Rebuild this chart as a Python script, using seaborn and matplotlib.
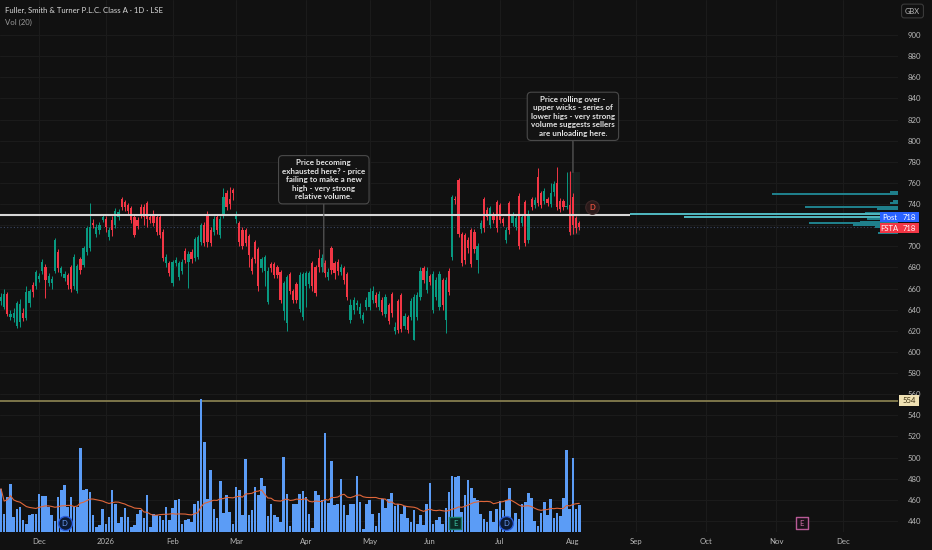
import numpy as np
import pandas as pd
import matplotlib
matplotlib.use("Agg")
import matplotlib.pyplot as plt
from matplotlib.patches import Rectangle
from matplotlib.transforms import blended_transform_factory
import seaborn as sns

TITLE = "Fuller, Smith & Turner P.L.C. Class A \u00b7 1D \u00b7 LSE"
VOL_TITLE = "Vol (20)"

# trading calendar (LSE, daily bars)
start_date = "2025-11-13"
end_date = "2026-12-31"
uk_holidays = ["2025-12-25", "2025-12-26", "2026-01-01", "2026-04-03", "2026-04-06",
               "2026-05-04", "2026-05-25", "2026-08-31", "2026-12-25", "2026-12-28"]
month_labels = ["Dec", "2026", "Feb", "Mar", "Apr", "May", "Jun", "Jul", "Aug",
                "Sep", "Oct", "Nov", "Dec"]

# daily candles, GBX
opens = [648, 643, 655, 633, 632, 625, 628, 637, 632, 646,
         663, 662, 669, 677, 680, 665, 665, 677, 695, 675,
         670, 673, 680, 662, 658, 688, 682, 695, 698, 722,
         712, 715, 725, 726, 709, 725, 720, 728, 745, 742,
         739, 736, 728, 725, 737, 737, 741, 728, 731, 728,
         728, 714, 684, 684, 665, 684, 671, 677, 696, 685,
         695, 689, 690, 704, 720, 730, 715, 714, 728, 711,
         730, 750, 745, 753, 726, 722, 715, 715, 710, 688,
         704, 697, 679, 677, 647, 683, 683, 680, 676, 639,
         627, 674, 658, 664, 641, 633, 662, 664, 684, 680,
         689, 680, 684, 671, 698, 684, 685, 676, 679, 674,
         630, 640, 644, 636, 630, 643, 643, 649, 654, 643,
         649, 636, 644, 655, 620, 648, 654, 625, 633, 633,
         611, 633, 652, 679, 659, 672, 640, 652, 643, 668,
         630, 677, 690, 745, 763, 712, 711, 706, 715, 714,
         687, 716, 745, 734, 720, 730, 742, 739, 726, 706,
         741, 722, 718, 748, 722, 742, 706, 745, 739, 766,
         750, 743, 745, 740, 751, 760, 743, 743, 737, 739,
         747, 727, 722]
closes = [652, 655, 636, 636, 637, 646, 645, 632, 657, 658,
          657, 676, 672, 685, 668, 672, 669, 706, 679, 679,
          674, 663, 660, 690, 681, 678, 698, 717, 718, 720,
          718, 720, 728, 718, 715, 715, 733, 732, 737, 737,
          733, 725, 711, 719, 730, 728, 726, 725, 722, 714,
          711, 689, 690, 675, 685, 687, 684, 685, 687, 693,
          688, 707, 709, 720, 703, 704, 703, 726, 715, 726,
          747, 737, 740, 750, 731, 704, 700, 703, 692, 677,
          688, 662, 688, 690, 677, 679, 673, 673, 649, 665,
          671, 658, 649, 649, 673, 674, 675, 675, 662, 656,
          680, 689, 675, 676, 678, 675, 677, 680, 668, 652,
          644, 649, 646, 643, 635, 649, 657, 658, 646, 655,
          638, 652, 629, 637, 624, 621, 622, 634, 621, 648,
          652, 654, 677, 668, 677, 666, 674, 668, 674, 644,
          668, 657, 747, 744, 712, 684, 687, 698, 683, 697,
          700, 722, 717, 728, 736, 725, 717, 725, 722, 715,
          715, 730, 727, 700, 728, 703, 731, 737, 744, 741,
          739, 752, 741, 750, 759, 737, 735, 737, 738, 714,
          720, 717, 718]
highs = [656, 660, 657, 640, 642, 648, 650, 642, 662, 660,
         666, 678, 675, 688, 683, 675, 672, 708, 697, 681,
         677, 675, 682, 693, 683, 690, 700, 719, 741, 726,
         721, 723, 731, 729, 718, 729, 736, 735, 747, 744,
         741, 738, 730, 728, 740, 740, 743, 731, 734, 730,
         730, 716, 693, 686, 687, 690, 686, 688, 698, 696,
         697, 709, 711, 722, 723, 733, 718, 729, 731, 729,
         755, 753, 756, 755, 733, 724, 718, 717, 712, 690,
         706, 699, 690, 692, 680, 685, 685, 682, 678, 667,
         673, 676, 660, 666, 676, 676, 677, 677, 686, 682,
         697, 693, 687, 679, 700, 686, 688, 683, 681, 676,
         650, 652, 649, 646, 638, 652, 661, 662, 657, 658,
         652, 655, 646, 657, 628, 650, 656, 637, 635, 651,
         655, 657, 680, 681, 680, 674, 677, 671, 677, 670,
         671, 679, 749, 748, 765, 714, 713, 709, 717, 716,
         703, 725, 747, 737, 738, 732, 744, 741, 728, 718,
         743, 732, 730, 750, 731, 744, 734, 747, 747, 774,
         752, 755, 747, 760, 762, 775, 746, 745, 770, 771,
         750, 729, 724]
lows = [644, 641, 634, 630, 628, 623, 624, 629, 630, 643,
        652, 660, 666, 674, 651, 662, 660, 675, 676, 672,
        667, 660, 657, 660, 656, 674, 680, 692, 696, 717,
        709, 712, 723, 714, 706, 710, 717, 725, 734, 733,
        730, 722, 709, 716, 727, 720, 718, 722, 719, 711,
        708, 686, 680, 672, 662, 681, 668, 674, 684, 661,
        684, 686, 688, 701, 700, 699, 700, 711, 712, 708,
        727, 734, 735, 744, 722, 700, 697, 700, 680, 674,
        684, 658, 676, 662, 645, 676, 670, 670, 646, 630,
        620, 655, 646, 646, 638, 630, 643, 661, 658, 653,
        676, 676, 671, 668, 674, 669, 673, 673, 664, 649,
        627, 636, 640, 632, 627, 640, 640, 646, 643, 640,
        635, 633, 626, 633, 617, 618, 619, 622, 618, 630,
        611, 630, 649, 665, 656, 663, 637, 649, 640, 640,
        618, 654, 687, 740, 709, 681, 683, 694, 680, 694,
        675, 713, 714, 725, 717, 722, 714, 722, 719, 703,
        712, 719, 715, 697, 719, 700, 703, 734, 736, 738,
        736, 740, 738, 737, 748, 734, 732, 734, 735, 711,
        712, 713, 715]
# volume, thousand shares
volumes = [130, 55, 105, 145, 45, 70, 75, 35, 25, 50,
           55, 55, 115, 107, 107, 75, 50, 33, 105, 125,
           140, 75, 105, 75, 75, 250, 125, 130, 120, 50,
           15, 20, 70, 25, 45, 125, 85, 27, 45, 73,
           45, 15, 20, 55, 65, 42, 112, 15, 55, 52,
           47, 37, 75, 37, 72, 95, 100, 25, 37, 40,
           30, 85, 93, 398, 268, 100, 187, 68, 43, 152,
           57, 110, 60, 23, 135, 125, 50, 217, 50, 67,
           135, 110, 163, 137, 47, 85, 52, 45, 30, 223,
           115, 18, 83, 83, 113, 122, 105, 55, 13, 122,
           112, 95, 297, 87, 212, 80, 83, 160, 82, 50,
           83, 83, 167, 90, 10, 85, 97, 55, 17, 57,
           100, 72, 100, 117, 77, 83, 55, 77, 43, 30,
           67, 23, 50, 20, 83, 148, 23, 37, 45, 23,
           73, 120, 168, 165, 168, 60, 110, 155, 133, 102,
           95, 53, 40, 30, 62, 30, 70, 92, 67, 95,
           132, 27, 58, 40, 83, 90, 117, 103, 33, 18,
           57, 90, 50, 100, 43, 58, 47, 103, 245, 68,
           220, 68, 82]

# price levels
drawn_level = 730
alert_level = 554
last_price = 718

# volume profile rows on the right
profile_prices = [751.4, 749.2, 743.2, 740.7, 737.5, 735.6, 731.8, 730.3,
                  728.0, 725.6, 723.3, 721.8, 720.2, 718.0, 712.3]
profile_vol = [8, 126, 5, 8, 93, 21, 33, 268, 214, 31, 38, 89, 45, 23, 20]

# events: (date, letter)
price_events = [("2026-08-11", "D")]
volume_events = [("2025-12-11", "D"), ("2026-06-11", "E"), ("2026-07-03", "D"),
                 ("2026-11-12", "E")]

note_left = ("Price becoming\nexhausted here? - price\nfailing to make a new\n"
             "high - very strong\nrelative volume.")
note_right = ("Price rolling over -\nupper wicks - series of\nlower higs - very strong\n"
              "volume suggests sellers\nare unloading here.")

price_ticks = list(range(440, 901, 20))
hidden_ticks = [720]  # sits under the Post / FSTA labels

BG = "#111111"
UP = "#089981"
DOWN = "#f23645"
TXT = "#b8b8b8"

sns.set_theme(style="dark")
plt.rcParams["font.family"] = ["Lato", "DejaVu Sans"]

cal = pd.bdate_range(start_date, end_date)
cal = cal[~cal.isin(pd.to_datetime(uk_holidays))]
pos = pd.Series(np.arange(len(cal)), index=cal)
month_first = pos.groupby([cal.year, cal.month]).min().values[1:1 + len(month_labels)]

df = pd.DataFrame({"open": opens, "close": closes, "high": highs, "low": lows,
                   "volume": volumes})
df["i"] = np.arange(len(df))
df["up"] = df["close"] >= df["open"]
df["vol_ma"] = df["volume"].rolling(20, min_periods=1).mean()

fig = plt.figure(figsize=(9.32, 5.5), dpi=100, facecolor=BG)
rect = [0, 18 / 550, 898 / 932, 532 / 550]
ax = fig.add_axes(rect)
ax.set_facecolor(BG)

colors = np.where(df["up"], UP, DOWN)
body_lo = df[["open", "close"]].min(axis=1)
body_h = (df["close"] - df["open"]).abs().clip(lower=0.8)

# faint highlight box round the last bars
ax.add_patch(Rectangle((178.7, 710.7), 3.6, 60, fc="#24443f", ec="none", alpha=0.3, zorder=1))

ax.vlines(df["i"], df["low"], df["high"], colors=colors, lw=0.7, zorder=2)
ax.bar(df["i"], body_h, bottom=body_lo, width=0.7, color=colors, lw=0, zorder=3)

ax.hlines(drawn_level, -1, 198, color="#d6d6d6", lw=1.5, zorder=4)
ax.axhline(alert_level, color="#857d4f", lw=1.3, zorder=4)
ax.axhline(last_price, color="#3b4763", lw=0.8, ls=(0, (1, 2)), zorder=1)

# notes
box = dict(boxstyle="round,pad=0.45,rounding_size=0.5", fc="#131313", ec="#4a4a4a", lw=0.8)
arrow = dict(arrowstyle="-", color="#5e5e5e", lw=0.8, shrinkA=0, shrinkB=0)
ax.annotate(note_left, xy=(101.6, 676), xytext=(101.6, 763), ha="center", va="center",
            fontsize=5.8, fontweight="bold", color="#e4e4e4", linespacing=1.25,
            bbox=box, arrowprops=arrow, zorder=6)
ax.annotate(note_right, xy=(180, 770), xytext=(180, 823), ha="center", va="center",
            fontsize=5.8, fontweight="bold", color="#e4e4e4", linespacing=1.25,
            bbox=box, arrowprops=arrow, zorder=6)

for d, letter in price_events:
    x = pos[pd.Timestamp(d)]
    ax.scatter([x], [737], s=95, color="#2a1a1a", edgecolors="#3e2828", lw=0.8, zorder=6)
    ax.text(x, 737, letter, ha="center", va="center", fontsize=5.5, fontweight="bold",
            color="#e0503f", zorder=7)

# volume overlay
ax_v = ax.twinx()
sns.barplot(x=df["i"], y=df["volume"], native_scale=True, color="#5b9cf6",
            saturation=1, width=0.82, linewidth=0, errorbar=None, ax=ax_v)
sns.lineplot(x=df["i"], y=df["vol_ma"], color="#e0663a", lw=0.8, ax=ax_v)
ax_v.set_ylim(0, 1592)
ax_v.set_yticks([])
ax_v.set_xlabel("")
ax_v.set_ylabel("")
ax_v.grid(False)
for s in ax_v.spines.values():
    s.set_visible(False)

styles = {"D": ("#0c1a33", "#2a5bd7", "#6a9cf5", "o"),
          "E": ("#0b2a25", "#1a7f6e", "#3cc0a0", "s")}
trans_v = ax_v.get_xaxis_transform()
for d, letter in volume_events:
    x = pos[pd.Timestamp(d)]
    fc, ec, tc, mk = styles[letter]
    if pd.Timestamp(d) > cal[len(df) - 1]:
        fc, ec, tc = "#1a1118", "#b85a96", "#d070a8"
    ax_v.scatter([x], [0.016], s=100 if mk == "o" else 80, marker=mk, color=fc,
                 edgecolors=ec, lw=1.0, transform=trans_v, clip_on=False, zorder=8)
    ax_v.text(x, 0.016, letter, ha="center", va="center", fontsize=5.5, color=tc,
              transform=trans_v, zorder=9)

# volume profile, growing from the right edge
ax_p = fig.add_axes(rect, sharey=ax)
ax_p.patch.set_visible(False)
prof_col = ["#4fb5bd" if v > 150 else "#1f7f8b" for v in profile_vol]
ax_p.barh(profile_prices, profile_vol, height=1.9, left=0, color=prof_col, lw=0)
ax_p.set_xlim(898, 0)
ax_p.axis("off")

# right side price labels
tr = blended_transform_factory(fig.transFigure, ax_p.transData)
for name, price, ypos, fc in [("Post", last_price, 727.7, "#2962ff"),
                             ("FSTA", last_price, 717.3, "#f23645")]:
    ax_p.add_patch(Rectangle((880 / 932, ypos - 4.8), 39 / 932, 9.6, fc=fc, ec="none",
                             transform=tr, clip_on=False, zorder=10))
    ax_p.text(889.5 / 932, ypos, name, ha="center", va="center", fontsize=5.5,
              color="white", transform=tr, zorder=11)
    ax_p.text(909.5 / 932, ypos, f"{price}", ha="center", va="center", fontsize=5.5,
              color="white", transform=tr, zorder=11)
ax_p.add_patch(Rectangle((899 / 932, alert_level - 4.8), 20 / 932, 9.6, fc="#efe1b3",
                         ec="none", transform=tr, clip_on=False, zorder=10))
ax_p.text(909 / 932, alert_level, f"{alert_level}", ha="center", va="center",
          fontsize=5.5, color="#3a2e10", transform=tr, zorder=11)

# axes styling
ax.set_xlim(-0.3, 282.3)
ax.set_ylim(429.6, 933.1)
ax.yaxis.tick_right()
ax.set_yticks(price_ticks)
ax.set_yticklabels(["" if t in hidden_ticks else str(t) for t in price_ticks])
ax.set_xticks(month_first)
ax.set_xticklabels(month_labels)
ax.tick_params(axis="y", length=0, pad=7, labelsize=5.6, labelcolor=TXT)
ax.tick_params(axis="x", length=0, pad=4.5, labelsize=5.6, labelcolor=TXT)
ax.grid(True, color="#1b1b1b", lw=0.8)
ax.set_axisbelow(True)
for s in ax.spines.values():
    s.set_visible(False)

fig.text(5 / 932, 1 - 10 / 550, TITLE, ha="left", va="center", fontsize=5.6, color="#d8d8d8")
fig.text(5 / 932, 1 - 22 / 550, VOL_TITLE, ha="left", va="center", fontsize=5.6, color="#9a9a9a")
fig.text(912.5 / 932, 1 - 11 / 550, "GBX", ha="center", va="center", fontsize=5.4, color=TXT,
         bbox=dict(boxstyle="round,pad=0.45,rounding_size=0.35", fc=BG, ec="#3a3a3a", lw=0.8))

fig.savefig("out.png", dpi=100, facecolor=BG)
